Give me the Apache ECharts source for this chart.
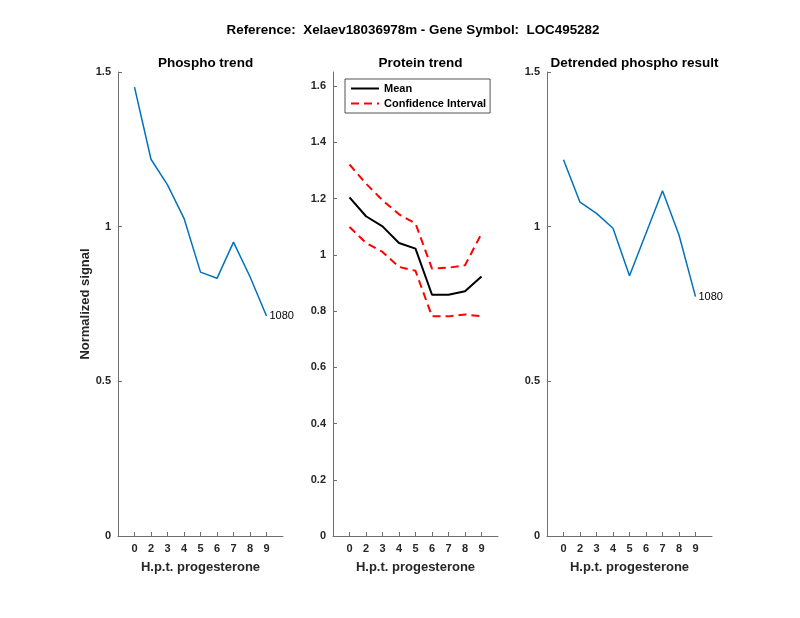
<!DOCTYPE html>
<html>
<head>
<meta charset="utf-8">
<title>LOC495282</title>
<script src="https://cdn.jsdelivr.net/npm/echarts@6/dist/echarts.min.js"></script>
<style>
  html, body { margin: 0; padding: 0; background: #fff; }
  #main { width: 800px; height: 618px; }
</style>
</head>
<body>
<div id="main"></div>
<script>
// hours post treatment (tick labels) and series values
var hours = ['0', '2', '3', '4', '5', '6', '7', '8', '9'];
var phospho = [1.451, 1.218, 1.135, 1.027, 0.853, 0.833, 0.950, 0.838, 0.711];
var proteinMean = [1.204, 1.137, 1.101, 1.042, 1.022, 0.858, 0.858, 0.870, 0.923];
var ciUpper = [1.321, 1.253, 1.194, 1.144, 1.111, 0.951, 0.954, 0.963, 1.075];
var ciLower = [1.099, 1.042, 1.010, 0.957, 0.943, 0.781, 0.781, 0.788, 0.781];
var detrended = [1.216, 1.079, 1.043, 0.995, 0.841, 0.979, 1.116, 0.973, 0.774];
var peptideId = '1080';

var FONT = 'Liberation Sans, Arial, Helvetica, sans-serif';
var TXT = '#262626';
var AX = '#6e6e6e';
var grids = [
  { left: 118, top: 72, width: 165, height: 464 },
  { left: 333, top: 72, width: 165, height: 464 },
  { left: 547, top: 72, width: 165, height: 464 }
];

function pts(vals) {
  return vals.map(function (v, i) { return [i + 1, v]; });
}
var tickPos = hours.map(function (h, i) { return i + 1; });

function xAxisFor(idx) {
  return {
    type: 'value', gridIndex: idx, min: 0, max: 10,
    name: 'H.p.t. progesterone', nameLocation: 'middle', nameGap: 25,
    nameTextStyle: { fontFamily: FONT, fontWeight: 'bold', fontSize: 13, color: TXT },
    axisLine: { lineStyle: { color: AX, width: 1 } },
    axisTick: { inside: true, length: 4, customValues: tickPos, lineStyle: { color: AX } },
    axisLabel: {
      customValues: tickPos, margin: 7,
      fontFamily: FONT, fontWeight: 'bold', fontSize: 11, color: TXT,
      formatter: function (v) { return hours[v - 1]; }
    },
    splitLine: { show: false }
  };
}
function yAxisFor(idx, max, ticks, name) {
  return {
    type: 'value', gridIndex: idx, min: 0, max: max,
    name: name || '', nameLocation: 'middle', nameGap: 15,
    nameTextStyle: { fontFamily: FONT, fontWeight: 'bold', fontSize: 13, color: TXT },
    axisLine: { show: true, lineStyle: { color: AX, width: 1 } },
    axisTick: { show: true, inside: true, length: 4, customValues: ticks, lineStyle: { color: AX } },
    axisLabel: {
      customValues: ticks, margin: 7,
      fontFamily: FONT, fontWeight: 'bold', fontSize: 11, color: TXT
    },
    splitLine: { show: false }
  };
}
function subTitle(text, g) {
  return {
    text: text, left: g.left + g.width / 2, top: 51, textAlign: 'center',
    textStyle: { fontFamily: FONT, fontWeight: 'bold', fontSize: 13.5, color: '#000' }
  };
}
var endLbl = {
  show: true, formatter: peptideId, distance: 3,
  fontFamily: FONT, fontSize: 11, color: '#000'
};

var chart = echarts.init(document.getElementById('main'));
chart.setOption({
  animation: false,
  backgroundColor: '#fff',
  title: [
    {
      text: 'Reference:  Xelaev18036978m - Gene Symbol:  LOC495282',
      left: 408, top: 19, textAlign: 'center',
      textStyle: { fontFamily: FONT, fontWeight: 'bold', fontSize: 13.4, color: '#000' }
    },
    subTitle('Phospho trend', grids[0]),
    subTitle('Protein trend', grids[1]),
    subTitle('Detrended phospho result', grids[2])
  ],
  legend: {
    left: 345, top: 79, orient: 'vertical',
    data: ['Mean', 'Confidence Interval'],
    itemWidth: 28, itemHeight: 12, itemGap: 4,
    padding: [4, 4, 4, 5],
    itemStyle: { opacity: 0 },
    borderColor: '#262626', borderWidth: 0.8, backgroundColor: '#fff',
    textStyle: { fontFamily: FONT, fontWeight: 'bold', fontSize: 11, color: '#000' }
  },
  grid: grids,
  xAxis: [xAxisFor(0), xAxisFor(1), xAxisFor(2)],
  yAxis: [
    yAxisFor(0, 1.5, [0, 0.5, 1, 1.5], 'Normalized signal'),
    yAxisFor(1, 1.65, [0, 0.2, 0.4, 0.6, 0.8, 1, 1.2, 1.4, 1.6]),
    yAxisFor(2, 1.5, [0, 0.5, 1, 1.5])
  ],
  series: [
    {
      type: 'line', xAxisIndex: 0, yAxisIndex: 0, data: pts(phospho),
      symbol: 'none', lineStyle: { color: '#0072BD', width: 1.5 },
      endLabel: endLbl
    },
    {
      name: 'Mean', type: 'line', xAxisIndex: 1, yAxisIndex: 1, data: pts(proteinMean),
      symbol: 'none', itemStyle: { color: '#000' }, lineStyle: { color: '#000', width: 2 }
    },
    {
      name: 'Confidence Interval', type: 'line', xAxisIndex: 1, yAxisIndex: 1, data: pts(ciUpper),
      symbol: 'none', itemStyle: { color: '#ff0000' },
      lineStyle: { color: '#ff0000', width: 2, type: [8, 5] }
    },
    {
      name: 'Confidence Interval', type: 'line', xAxisIndex: 1, yAxisIndex: 1, data: pts(ciLower),
      symbol: 'none', itemStyle: { color: '#ff0000' },
      lineStyle: { color: '#ff0000', width: 2, type: [8, 5] }
    },
    {
      type: 'line', xAxisIndex: 2, yAxisIndex: 2, data: pts(detrended),
      symbol: 'none', lineStyle: { color: '#0072BD', width: 1.5 },
      endLabel: endLbl
    }
  ]
});
</script>
</body>
</html>
